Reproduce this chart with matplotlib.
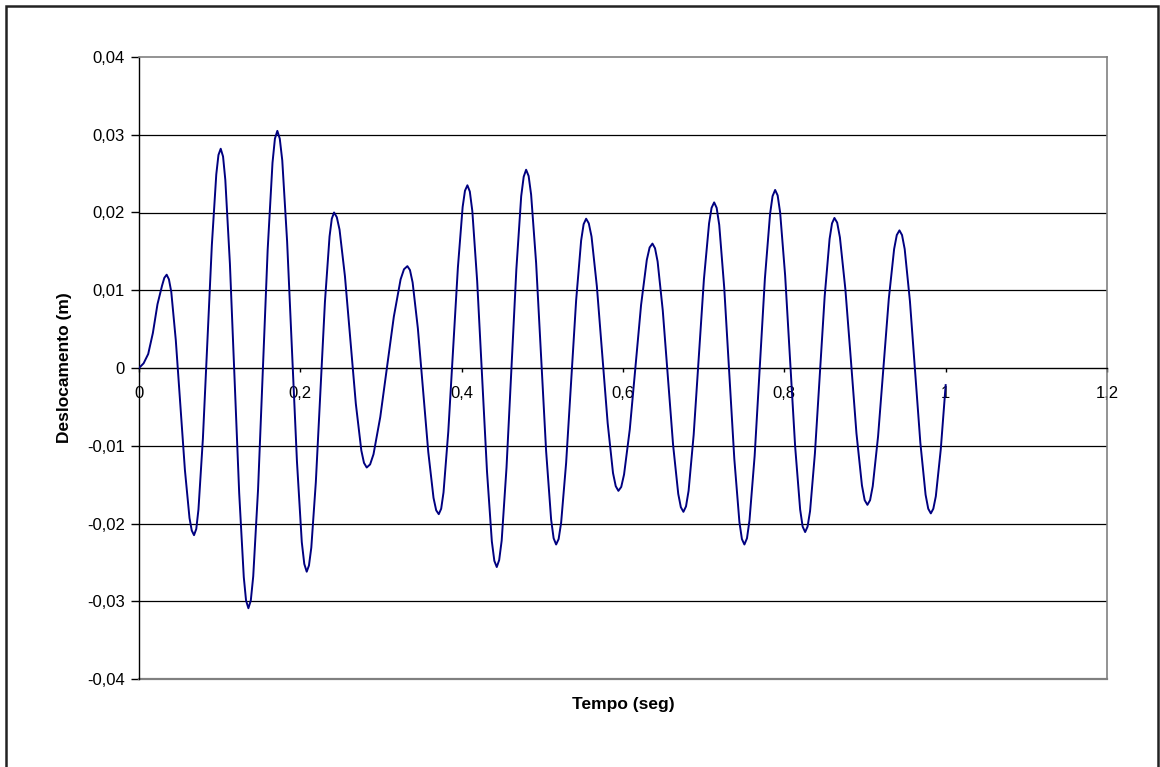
import matplotlib
matplotlib.use("Agg")
import matplotlib.pyplot as plt
from matplotlib.ticker import FuncFormatter, MultipleLocator
from matplotlib.patches import Rectangle

# Displacement response (m) over time (s)
tempo = [
    0.0000, 0.0057, 0.0114, 0.0172, 0.0229, 0.0286, 0.0314, 0.0343,
    0.0371, 0.0400, 0.0456, 0.0513, 0.0569, 0.0626, 0.0654, 0.0682,
    0.0710, 0.0737, 0.0792, 0.0848, 0.0903, 0.0958, 0.0985, 0.1013,
    0.1042, 0.1070, 0.1127, 0.1185, 0.1242, 0.1299, 0.1327, 0.1356,
    0.1386, 0.1416, 0.1476, 0.1536, 0.1595, 0.1655, 0.1685, 0.1715,
    0.1745, 0.1776, 0.1836, 0.1897, 0.1958, 0.2018, 0.2049, 0.2079,
    0.2107, 0.2136, 0.2192, 0.2249, 0.2305, 0.2362, 0.2390, 0.2418,
    0.2452, 0.2486, 0.2553, 0.2621, 0.2688, 0.2756, 0.2789, 0.2823,
    0.2865, 0.2907, 0.2991, 0.3075, 0.3159, 0.3243, 0.3285, 0.3327,
    0.3359, 0.3392, 0.3457, 0.3522, 0.3586, 0.3651, 0.3684, 0.3716,
    0.3746, 0.3775, 0.3834, 0.3894, 0.3953, 0.4012, 0.4041, 0.4071,
    0.4101, 0.4132, 0.4192, 0.4253, 0.4314, 0.4374, 0.4405, 0.4435,
    0.4465, 0.4496, 0.4556, 0.4617, 0.4678, 0.4738, 0.4769, 0.4799,
    0.4830, 0.4861, 0.4923, 0.4985, 0.5047, 0.5109, 0.5140, 0.5171,
    0.5202, 0.5233, 0.5295, 0.5357, 0.5419, 0.5481, 0.5512, 0.5543,
    0.5576, 0.5610, 0.5676, 0.5743, 0.5810, 0.5876, 0.5910, 0.5943,
    0.5978, 0.6013, 0.6084, 0.6154, 0.6224, 0.6295, 0.6330, 0.6365,
    0.6397, 0.6429, 0.6493, 0.6557, 0.6621, 0.6685, 0.6717, 0.6749,
    0.6781, 0.6813, 0.6876, 0.6940, 0.7003, 0.7067, 0.7098, 0.7130,
    0.7161, 0.7193, 0.7255, 0.7318, 0.7380, 0.7443, 0.7474, 0.7505,
    0.7537, 0.7568, 0.7632, 0.7696, 0.7759, 0.7823, 0.7854, 0.7886,
    0.7917, 0.7948, 0.8010, 0.8072, 0.8134, 0.8196, 0.8227, 0.8258,
    0.8288, 0.8319, 0.8379, 0.8440, 0.8500, 0.8561, 0.8591, 0.8621,
    0.8655, 0.8689, 0.8757, 0.8826, 0.8894, 0.8962, 0.8996, 0.9030,
    0.9063, 0.9096, 0.9162, 0.9229, 0.9295, 0.9361, 0.9394, 0.9427,
    0.9459, 0.9492, 0.9557, 0.9622, 0.9686, 0.9751, 0.9784, 0.9816,
    0.9847, 0.9878, 0.9939, 1.0000,
]

deslocamento = [
    0.0000, 0.0006, 0.0018, 0.0045, 0.0082, 0.0106, 0.0116, 0.0120,
    0.0114, 0.0098, 0.0036, -0.0048, -0.0131, -0.0193, -0.0209, -0.0215,
    -0.0207, -0.0182, -0.0091, 0.0034, 0.0158, 0.0249, 0.0274, 0.0282,
    0.0272, 0.0242, 0.0134, -0.0014, -0.0161, -0.0269, -0.0299, -0.0309,
    -0.0299, -0.0268, -0.0156, -0.0002, 0.0152, 0.0264, 0.0295, 0.0305,
    0.0295, 0.0267, 0.0163, 0.0022, -0.0120, -0.0224, -0.0252, -0.0262,
    -0.0254, -0.0231, -0.0147, -0.0031, 0.0085, 0.0169, 0.0192, 0.0200,
    0.0194, 0.0178, 0.0118, 0.0036, -0.0046, -0.0106, -0.0122, -0.0128,
    -0.0124, -0.0111, -0.0063, 0.0002, 0.0066, 0.0114, 0.0127, 0.0131,
    0.0126, 0.0110, 0.0051, -0.0029, -0.0108, -0.0167, -0.0183, -0.0188,
    -0.0181, -0.0160, -0.0082, 0.0024, 0.0129, 0.0207, 0.0228, 0.0235,
    0.0227, 0.0202, 0.0112, -0.0011, -0.0133, -0.0223, -0.0248, -0.0256,
    -0.0247, -0.0222, -0.0128, -0.0001, 0.0127, 0.0221, 0.0246, 0.0255,
    0.0247, 0.0223, 0.0135, 0.0014, -0.0107, -0.0195, -0.0219, -0.0227,
    -0.0220, -0.0199, -0.0122, -0.0018, 0.0087, 0.0164, 0.0185, 0.0192,
    0.0186, 0.0169, 0.0105, 0.0017, -0.0071, -0.0135, -0.0152, -0.0158,
    -0.0153, -0.0137, -0.0079, 0.0001, 0.0081, 0.0139, 0.0155, 0.0160,
    0.0154, 0.0137, 0.0074, -0.0013, -0.0099, -0.0162, -0.0179, -0.0185,
    -0.0178, -0.0158, -0.0086, 0.0014, 0.0114, 0.0186, 0.0206, 0.0213,
    0.0206, 0.0184, 0.0103, -0.0007, -0.0117, -0.0198, -0.0220, -0.0227,
    -0.0219, -0.0196, -0.0113, 0.0001, 0.0115, 0.0198, 0.0221, 0.0229,
    0.0222, 0.0200, 0.0119, 0.0009, -0.0101, -0.0182, -0.0204, -0.0211,
    -0.0204, -0.0184, -0.0110, -0.0009, 0.0092, 0.0166, 0.0186, 0.0193,
    0.0187, 0.0168, 0.0101, 0.0009, -0.0084, -0.0151, -0.0170, -0.0176,
    -0.0170, -0.0152, -0.0088, 0.0001, 0.0089, 0.0153, 0.0171, 0.0177,
    0.0171, 0.0153, 0.0086, -0.0005, -0.0096, -0.0163, -0.0181, -0.0187,
    -0.0181, -0.0165, -0.0105, -0.0022,
]

x_label = "Tempo (seg)"
y_label = "Deslocamento (m)"

plt.rcParams["font.family"] = ["Liberation Sans", "DejaVu Sans"]

W, H = 1160, 767
fig = plt.figure(figsize=(W / 100, H / 100), dpi=100)
fig.patch.set_facecolor("white")

# outer chart frame
fig.patches.append(Rectangle((6 / W, -0.01), (1158 - 6) / W, 1 - 6 / H + 0.01,
                             transform=fig.transFigure, fill=False,
                             edgecolor="#222222", linewidth=1.8))

left, right, top, bottom = 139, 1107, 57, 679
ax = fig.add_axes([left / W, 1 - bottom / H, (right - left) / W, (bottom - top) / H])

ax.set_xlim(0, 1.2)
ax.set_ylim(-0.04, 0.04)

# horizontal gridlines
for yv in [-0.03, -0.02, -0.01, 0.01, 0.02, 0.03]:
    ax.axhline(yv, color="black", linewidth=0.9, zorder=1)

ax.plot(tempo, deslocamento, color="#000080", linewidth=1.4, zorder=3,
        solid_joinstyle="round")

comma = FuncFormatter(lambda v, pos: ("%g" % round(v, 4)).replace(".", ","))
ax.xaxis.set_major_locator(MultipleLocator(0.2))
ax.yaxis.set_major_locator(MultipleLocator(0.01))
ax.xaxis.set_major_formatter(comma)
ax.yaxis.set_major_formatter(comma)

for s in ["top", "right"]:
    ax.spines[s].set_color("#808080")
    ax.spines[s].set_linewidth(1.2)
ax.spines["left"].set_color("black")
ax.spines["left"].set_linewidth(1.0)
ax.spines["bottom"].set_position(("data", 0))
ax.spines["bottom"].set_color("black")
ax.spines["bottom"].set_linewidth(1.0)
ax.axhline(-0.04, color="#808080", linewidth=1.6, clip_on=False, zorder=2)

ax.tick_params(axis="y", direction="out", length=6, width=1, pad=4,
               labelsize=12, colors="black")
ax.tick_params(axis="x", direction="out", length=3, width=1, pad=10,
               labelsize=12, colors="black")

fig.text(623 / W, 1 - 705 / H, x_label, ha="center", va="center",
         fontsize=12.5, fontweight="bold")
fig.text(64 / W, 1 - 368 / H, y_label, ha="center", va="center",
         rotation=90, fontsize=12.5, fontweight="bold")

fig.savefig("out.png", dpi=100, facecolor="white")
